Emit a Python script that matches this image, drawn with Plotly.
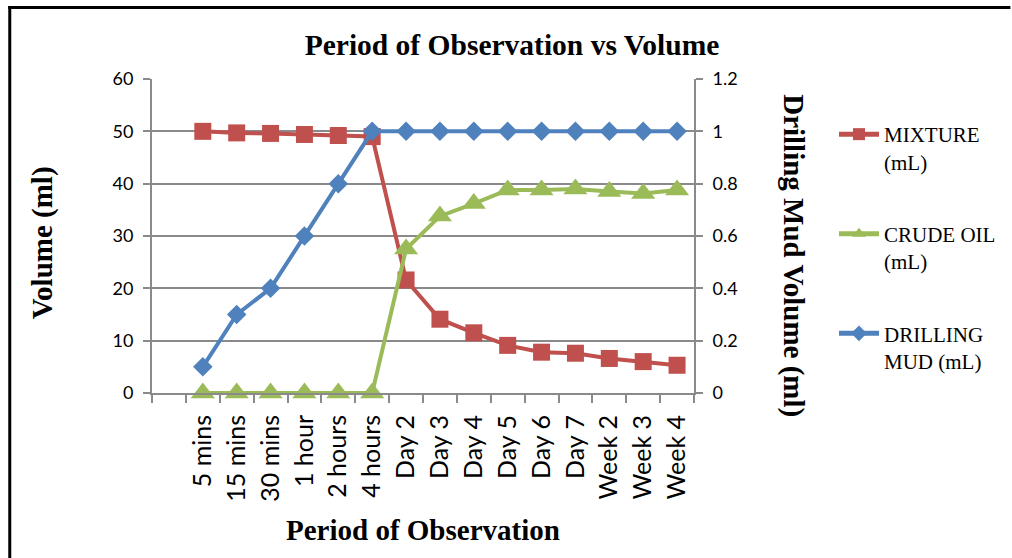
import plotly.graph_objects as go

# Observation periods (first slot on the axis is left empty)
periods = ["5 mins", "15 mins", "30 mins", "1 hour", "2 hours", "4 hours",
           "Day 2", "Day 3", "Day 4", "Day 5", "Day 6", "Day 7",
           "Week 2", "Week 3", "Week 4"]

mixture_ml = [50.0, 49.7, 49.6, 49.4, 49.2, 49.0,
              21.6, 14.1, 11.5, 9.1, 7.8, 7.6, 6.6, 6.0, 5.3]
crude_oil_ml = [0, 0, 0, 0, 0, 0,
                27.5, 33.8, 36.2, 38.8, 38.8, 39.0, 38.5, 38.1, 38.8]
drilling_mud_ml = [0.1, 0.3, 0.4, 0.6, 0.8, 1.0,
                   1.0, 1.0, 1.0, 1.0, 1.0, 1.0, 1.0, 1.0, 1.0]

left_ticks = [0, 10, 20, 30, 40, 50, 60]
right_ticks = [0, 0.2, 0.4, 0.6, 0.8, 1.0, 1.2]

W, H = 1012, 558
ML, MR, MT, MB = 152, 317, 79, 165
PW, PH = W - ML - MR, H - MT - MB


def px_x(x):
    return (x - ML) / PW


def px_y(y):
    return (H - MB - y) / PH


xpos = list(range(1, len(periods) + 1))

RED = "#C0504D"
GREEN = "#9BBB59"
BLUE = "#4F81BD"
GRID = "#8A8A8A"
SERIF = "Liberation Serif, Times New Roman, serif"
SANS = "Lato, Carlito, Calibri, sans-serif"

fig = go.Figure()
fig.add_trace(go.Scatter(
    x=xpos, y=mixture_ml, name="MIXTURE<br>(mL)", mode="lines+markers",
    line=dict(color=RED, width=4), legendgroup="a", cliponaxis=False,
    marker=dict(symbol="square", size=17, color=RED)))
fig.add_trace(go.Scatter(
    x=xpos, y=crude_oil_ml, name="CRUDE OIL<br>(mL)", mode="lines+markers",
    line=dict(color=GREEN, width=4), legendgroup="b", cliponaxis=False,
    marker=dict(symbol="triangle-up", size=21, color=GREEN)))
fig.add_trace(go.Scatter(
    x=xpos, y=drilling_mud_ml, name="DRILLING<br>MUD (mL)", mode="lines+markers",
    line=dict(color=BLUE, width=4), legendgroup="c", yaxis="y2", cliponaxis=False,
    marker=dict(symbol="diamond", size=15, color=BLUE)))

fig.update_layout(
    width=W, height=H,
    margin=dict(l=ML, r=MR, t=MT, b=MB, pad=0),
    paper_bgcolor="white", plot_bgcolor="white",
    title=dict(text="<b>Period of Observation vs Volume</b>",
               font=dict(family=SERIF, size=29.5, color="black"),
               xref="container", x=512 / W, xanchor="center",
               yref="container", y=1 - 45 / H, yanchor="middle"),
    xaxis=dict(
        range=[-0.5, len(periods) + 0.5],
        tickmode="array", tickvals=xpos, ticktext=periods,
        tickangle=-90, ticks="", ticklabelstandoff=10,
        tickfont=dict(family=SANS, size=25, color="black"),
        showgrid=False, zeroline=False,
        showline=True, linecolor=GRID, linewidth=2,
        minor=dict(tickmode="array",
                   tickvals=[i - 0.5 for i in range(len(periods) + 2)],
                   ticks="outside", ticklen=8, tickcolor=GRID, tickwidth=2,
                   showgrid=False),
    ),
    yaxis=dict(
        range=[0, 60], tickmode="array", tickvals=left_ticks,
        ticks="outside", ticklen=7, tickcolor=GRID, tickwidth=2,
        ticklabelstandoff=6,
        tickfont=dict(family=SANS, size=18, color="black"),
        showgrid=True, gridcolor=GRID, gridwidth=2, zeroline=False,
        showline=True, linecolor=GRID, linewidth=2,
    ),
    yaxis2=dict(
        range=[0, 1.2], tickmode="array", tickvals=right_ticks,
        overlaying="y", side="right",
        ticks="outside", ticklen=7, tickcolor=GRID, tickwidth=2,
        ticklabelstandoff=6,
        tickfont=dict(family=SANS, size=18, color="black"),
        showgrid=False, zeroline=False,
        showline=True, linecolor=GRID, linewidth=2,
    ),
    legend=dict(
        x=px_x(834), xanchor="left", y=px_y(114), yanchor="top",
        font=dict(family=SERIF, size=21, color="black"),
        valign="top", tracegroupgap=42, itemsizing="constant",
        itemwidth=40, bgcolor="rgba(0,0,0,0)",
    ),
    showlegend=True,
)

# Axis titles
fig.add_annotation(text="<b>Volume (ml)</b>", textangle=-90,
                   xref="paper", yref="paper", x=px_x(42), y=px_y(243),
                   xanchor="center", yanchor="middle",
                   showarrow=False, font=dict(family=SERIF, size=29, color="black"))
fig.add_annotation(text="<b>Drilling Mud Volume (ml)</b>", textangle=90,
                   xref="paper", yref="paper", x=px_x(795), y=px_y(256),
                   xanchor="center", yanchor="middle",
                   showarrow=False, font=dict(family=SERIF, size=29, color="black"))
fig.add_annotation(text="<b>Period of Observation</b>",
                   xref="paper", yref="paper", x=px_x(423), y=px_y(530),
                   xanchor="center", yanchor="middle",
                   showarrow=False, font=dict(family=SERIF, size=29, color="black"))

# Outer frame: top and left edges only
frame = dict(color="black", width=3)
fig.add_shape(type="line", xref="paper", yref="paper",
              x0=px_x(8), x1=px_x(W), y0=px_y(7.5), y1=px_y(7.5),
              line=frame, layer="above")
fig.add_shape(type="line", xref="paper", yref="paper",
              x0=px_x(9.5), x1=px_x(9.5), y0=px_y(6), y1=px_y(H),
              line=frame, layer="above")

fig.write_html("out.html")
